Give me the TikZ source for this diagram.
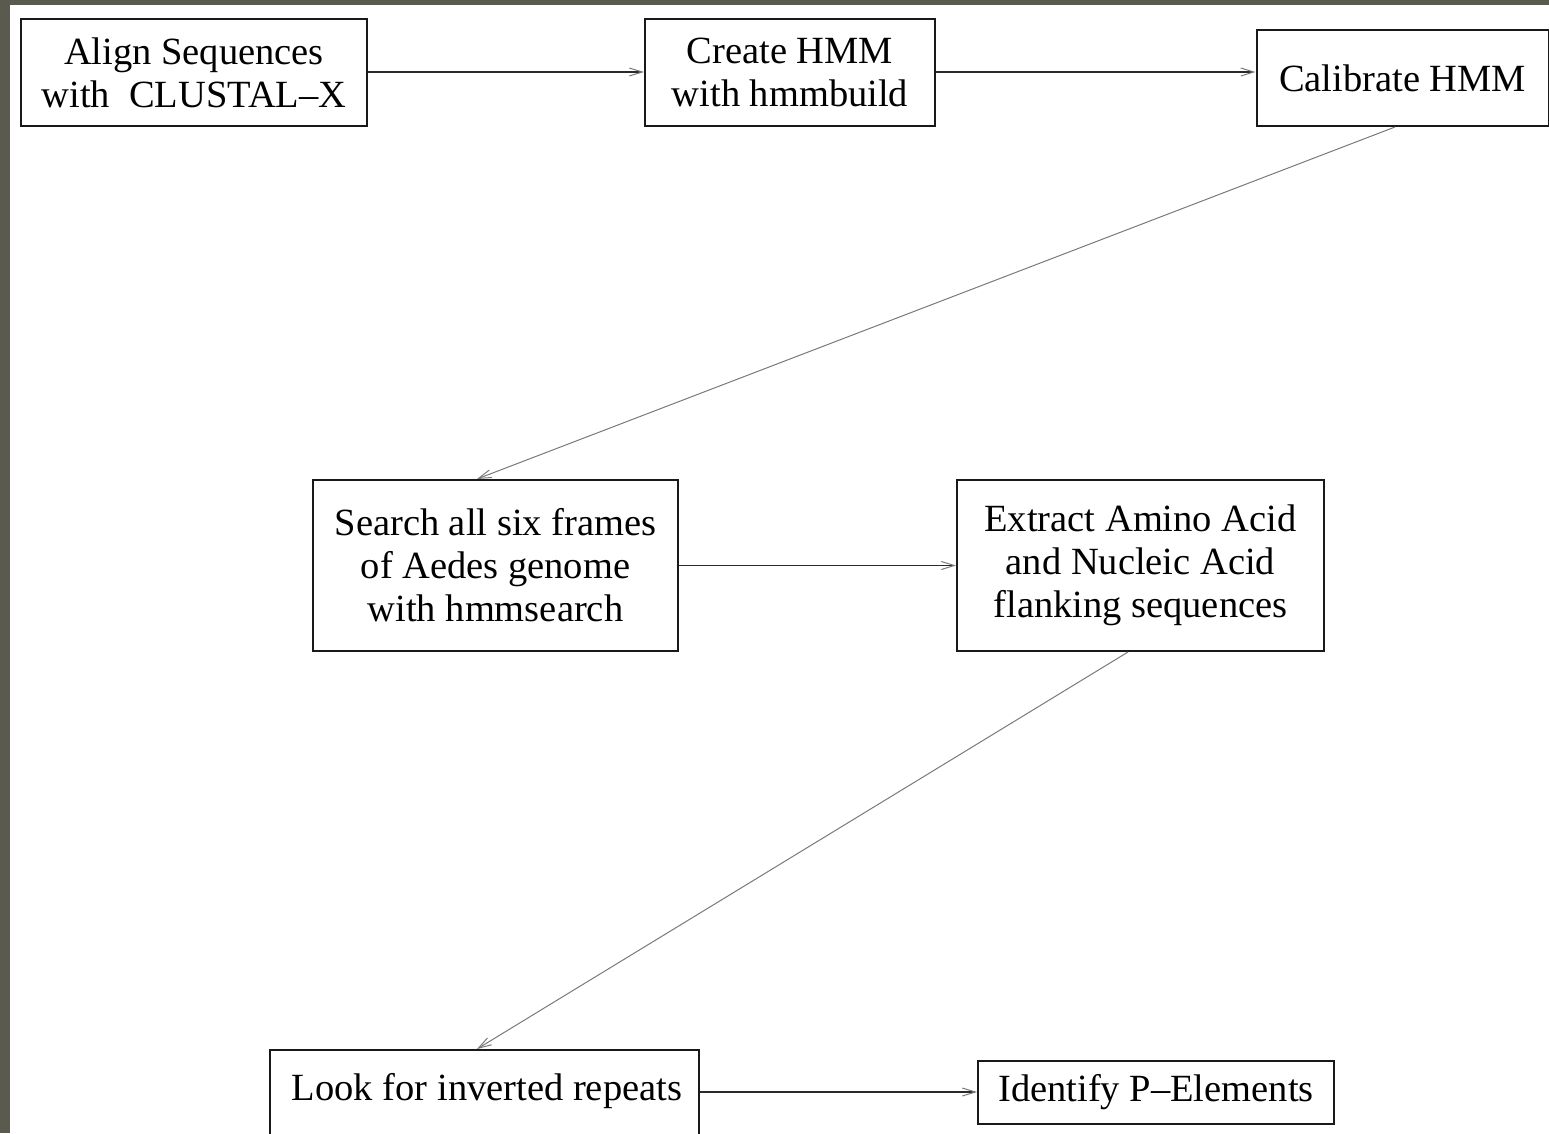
\documentclass[tikz,border=0pt]{standalone}
\usepackage{fontspec}
\setmainfont{Liberation Serif}
\usetikzlibrary{arrows.meta}
\definecolor{bgdark}{HTML}{5A5B4E}
\definecolor{linedark}{HTML}{2A2A2A}
\definecolor{linegrey}{HTML}{7A7A7A}
\tikzset{
  box/.style={draw=black!90, line width=2pt, rectangle, inner sep=0pt, align=center,
    font=\fontsize{38.5}{43}\selectfont},
  flowh/.style={draw=linedark, line width=1.8pt,
    -{Straight Barb[length=13pt,width=8pt,line width=1pt,color=linegrey]}},
  flowd/.style={draw=linegrey, line width=1pt,
    -{Straight Barb[length=13pt,width=8pt,line width=1pt,color=linegrey]}}
}
\begin{document}
\begin{tikzpicture}[x=1pt,y=-1pt]
\useasboundingbox (0,0) rectangle (1549,1133);
\clip (0,0) rectangle (1549,1133);
\fill[bgdark] (0,0) rectangle (1549,1133);
\fill[white] (10,5) rectangle (1560,1140);

\node[box, minimum width=346pt, minimum height=107pt] (align) at (194,72.5) {Align Sequences\\with\ \ CLUSTAL–X};
\node[box, minimum width=290pt, minimum height=107pt] (create) at (790,72.5) {Create HMM\\with hmmbuild};
\node[box, minimum width=292pt, minimum height=96pt] (calib) at (1402.5,78) {Calibrate HMM};
\node[box, minimum width=365pt, minimum height=171pt] (search) at (495.5,565.5) {Search all six frames\\of Aedes genome\\with hmmsearch};
\node[box, minimum width=367pt, minimum height=171pt] (extract) at (1140.5,565.5) {Extract Amino Acid\\and Nucleic Acid\\flanking sequences};
\node[box, minimum width=429pt, minimum height=100pt] (look) at (484.5,1100) {};
\node[font=\fontsize{38.5}{43}\selectfont, inner sep=0pt] (looktext) at (487,1091) {Look for inverted repeats};
\node[box, minimum width=356pt, minimum height=63pt] (ident) at (1156,1092.5) {Identify P–Elements};

\draw[flowh] (align.east |- 0,72) -- (create.west |- 0,72);
\draw[flowh] (create.east |- 0,72) -- (calib.west |- 0,72);
\draw[flowd] (calib.south -| 1395,0) -- (search.north -| 477,0);
\draw[flowh] (search.east) -- (extract.west);
\draw[flowd] (extract.south -| 1128,0) -- (look.north -| 477,0);
\draw[flowh] (look.east |- 0,1092) -- (ident.west |- 0,1092);
\end{tikzpicture}
\end{document}
